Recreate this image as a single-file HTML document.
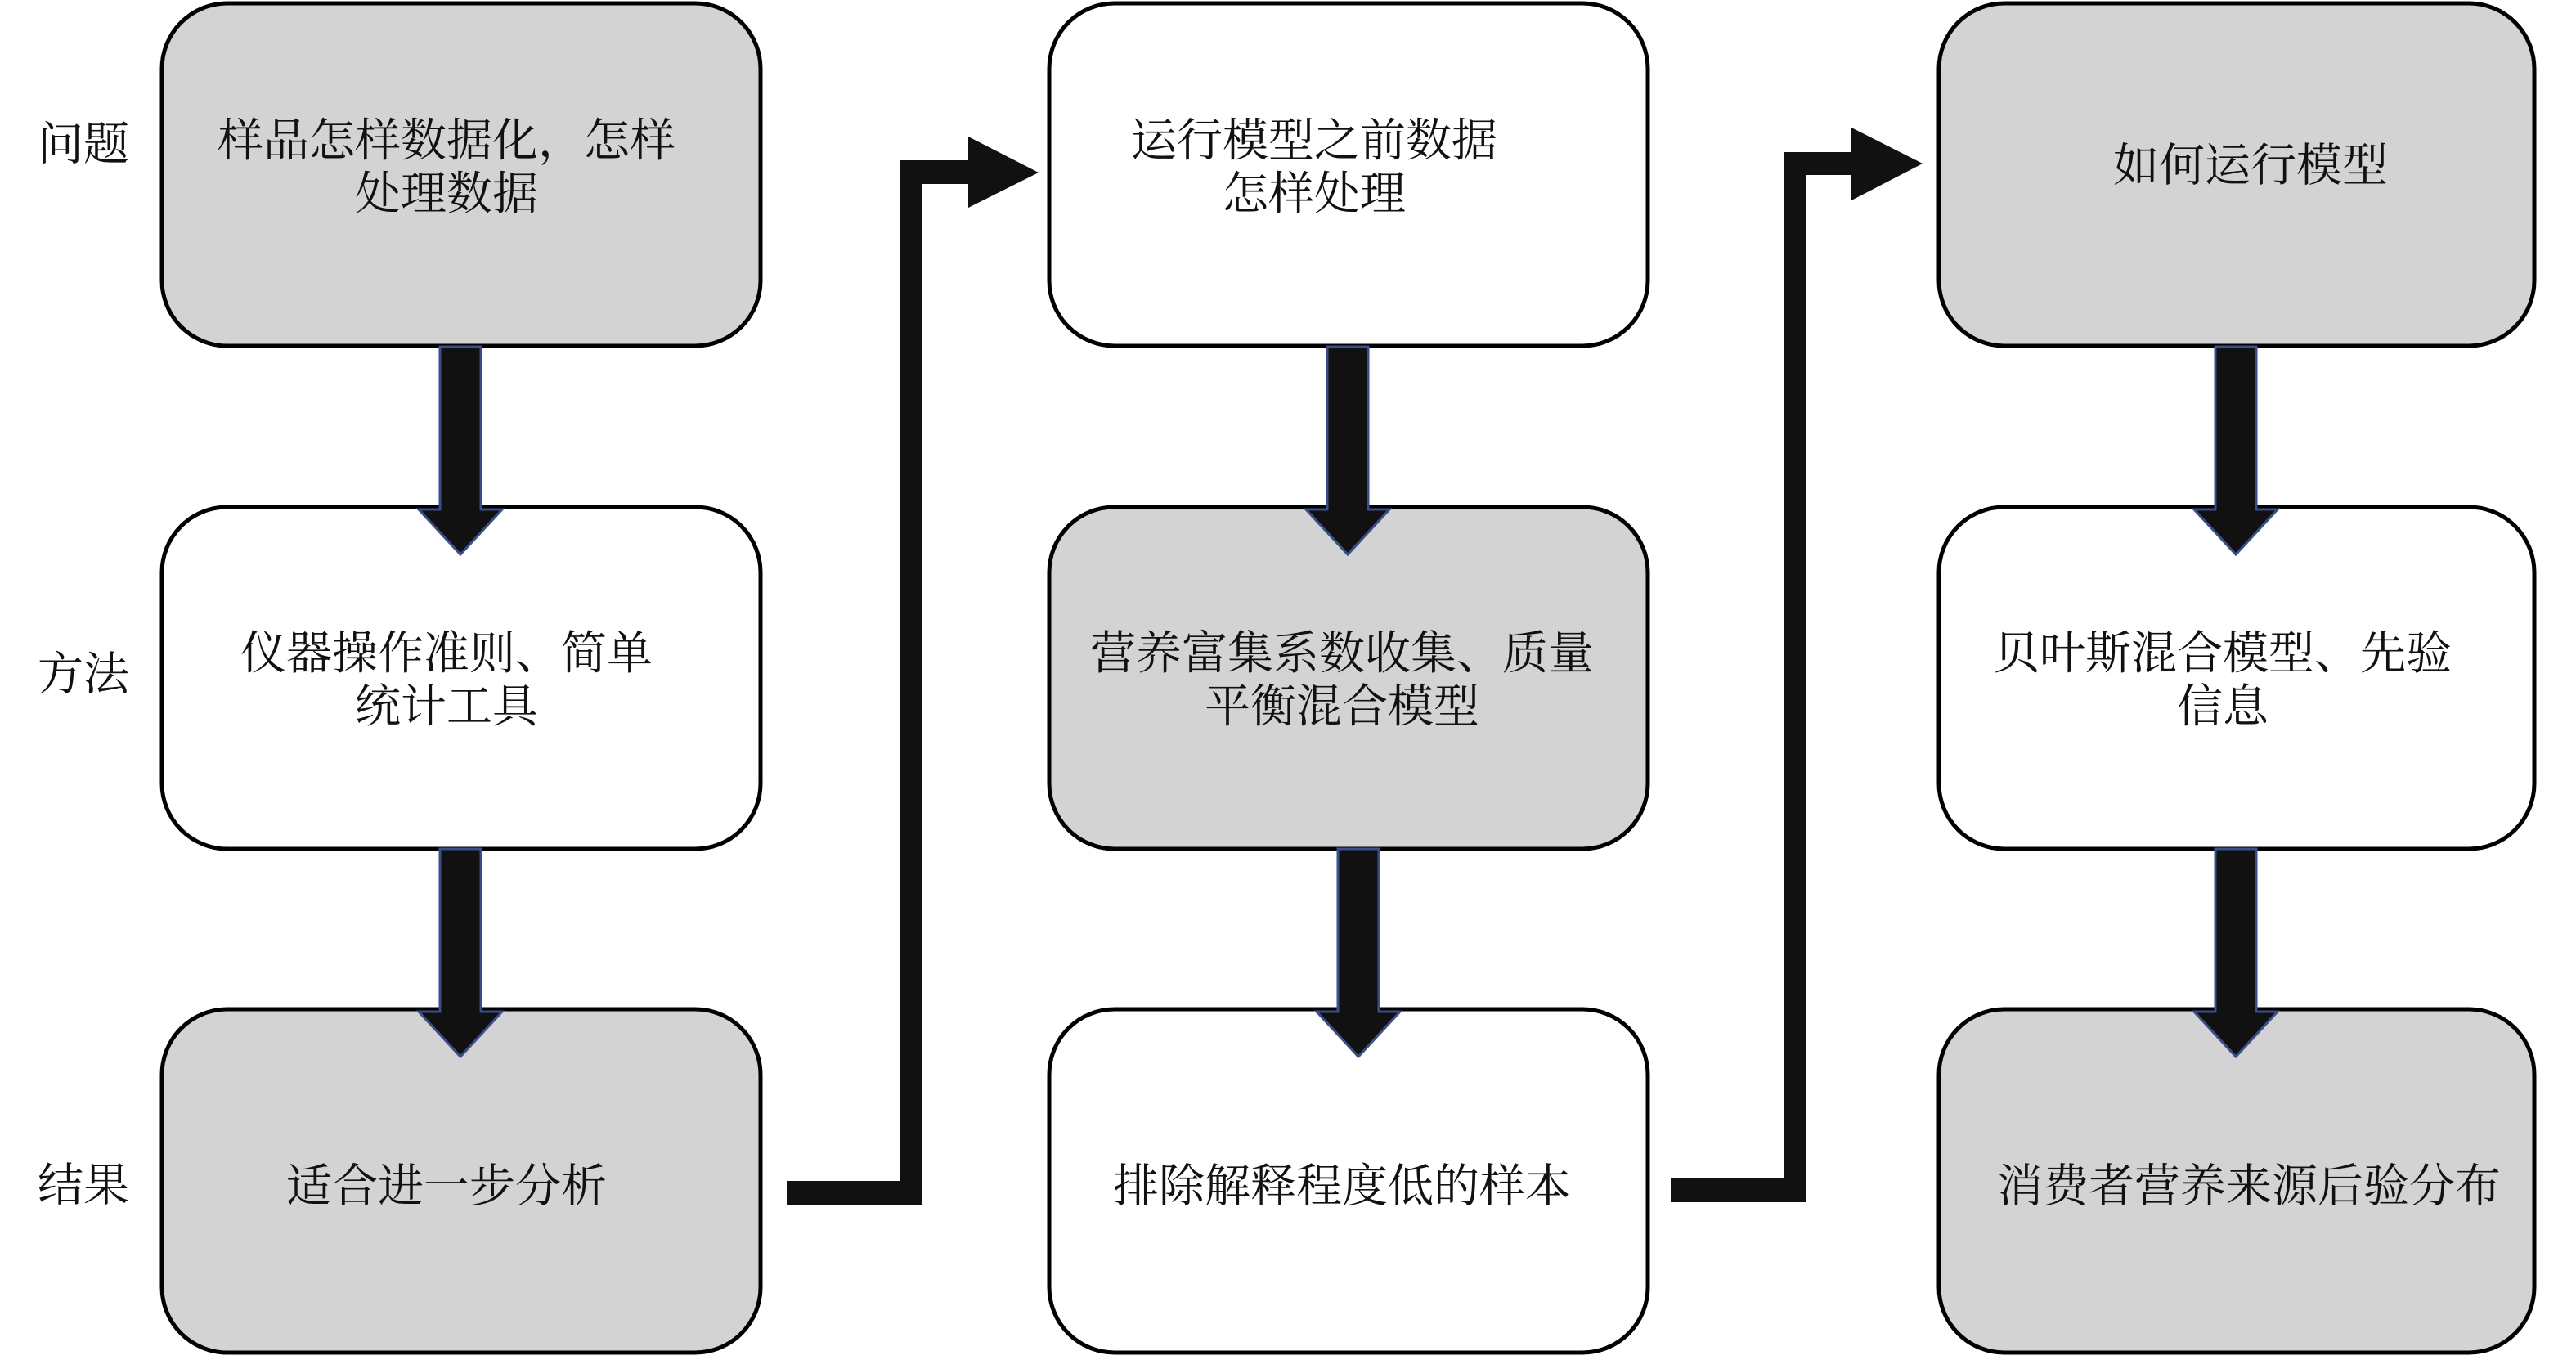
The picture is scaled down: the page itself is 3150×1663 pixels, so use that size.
<!DOCTYPE html>
<html><head><meta charset="utf-8"><style>
html,body{margin:0;padding:0;background:#fff;}
body{width:3150px;height:1663px;position:relative;overflow:hidden;}
svg{position:absolute;left:0;top:0;}
.t{position:absolute;font-family:"Liberation Serif","Noto Serif CJK SC",serif;font-size:56px;line-height:65px;color:#111;text-align:center;white-space:nowrap;transform:translate(-50%,-50%);}
</style></head><body>
<svg width="3150" height="1663" viewBox="0 0 3150 1663">
<g stroke="#000" stroke-width="5">
<rect x="198" y="4" width="732" height="419" rx="80" fill="#d3d3d3"/>
<rect x="198" y="620" width="732" height="418" rx="80" fill="#fff"/>
<rect x="198" y="1234" width="732" height="420" rx="80" fill="#d3d3d3"/>
<rect x="1283" y="4" width="732" height="419" rx="80" fill="#fff"/>
<rect x="1283" y="620" width="732" height="418" rx="80" fill="#d3d3d3"/>
<rect x="1283" y="1234" width="732" height="420" rx="80" fill="#fff"/>
<rect x="2371" y="4" width="728" height="419" rx="80" fill="#d3d3d3"/>
<rect x="2371" y="620" width="728" height="418" rx="80" fill="#fff"/>
<rect x="2371" y="1234" width="728" height="420" rx="80" fill="#d3d3d3"/>
</g>
<g fill="#111" stroke="#3a4f8a" stroke-width="3">
<polygon points="538,424 588,424 588,623 614,623 563,678 512,623 538,623"/>
<polygon points="538,1038 588,1038 588,1237 614,1237 563,1292 512,1237 538,1237"/>
<polygon points="1623,424 1673,424 1673,623 1699,623 1648,678 1597,623 1623,623"/>
<polygon points="1636,1038 1686,1038 1686,1237 1712,1237 1661,1292 1610,1237 1636,1237"/>
<polygon points="2709,424 2759,424 2759,623 2785,623 2734,678 2683,623 2709,623"/>
<polygon points="2709,1038 2759,1038 2759,1237 2785,1237 2734,1292 2683,1237 2709,1237"/>
</g>
<g fill="#111">
<polygon points="962,1444 1101,1444 1101,196 1184,196 1184,167 1270,211 1184,254 1184,225 1128,225 1128,1474 962,1474"/>
<polygon points="2043,1440 2181,1440 2181,186 2264,186 2264,156 2351,200 2264,245 2264,214 2208,214 2208,1470 2043,1470"/>
</g>
</svg>
<div class="t" style="left:102px;top:178px;">问题</div>
<div class="t" style="left:102px;top:826px;">方法</div>
<div class="t" style="left:102px;top:1451px;">结果</div>
<div class="t" style="left:546px;top:206px;">样品怎样数据化，怎样<br>处理数据</div>
<div class="t" style="left:546px;top:833px;">仪器操作准则、简单<br>统计工具</div>
<div class="t" style="left:546px;top:1452px;">适合进一步分析</div>
<div class="t" style="left:1607px;top:206px;">运行模型之前数据<br>怎样处理</div>
<div class="t" style="left:1641px;top:833px;">营养富集系数收集、质量<br>平衡混合模型</div>
<div class="t" style="left:1641px;top:1452px;">排除解释程度低的样本</div>
<div class="t" style="left:2752px;top:204px;">如何运行模型</div>
<div class="t" style="left:2718px;top:833px;">贝叶斯混合模型、先验<br>信息</div>
<div class="t" style="left:2750px;top:1452px;">消费者营养来源后验分布</div>
</body></html>
